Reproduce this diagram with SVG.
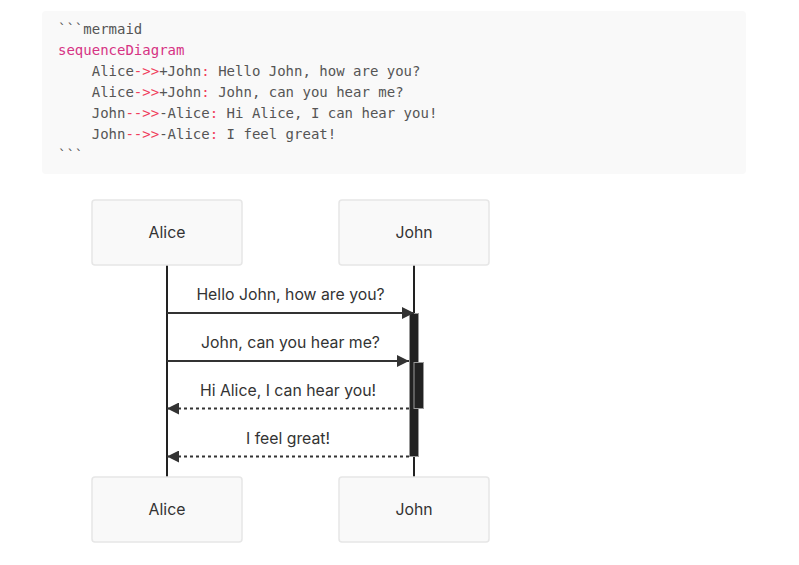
<svg xmlns="http://www.w3.org/2000/svg" width="799" height="565" viewBox="0 0 799 565">
<defs>
<style>
.code{font-family:"DejaVu Sans Mono",monospace;font-size:14px;fill:#555;white-space:pre}
.kw{fill:#d63384}
.op{fill:#f03e5c}
.actor rect{fill:#f9f9f9;stroke:#e6e6e6;stroke-width:1.5}
.actor text,.lbl{font-family:Inter,"Noto Sans",sans-serif;font-size:15.8px;fill:#333;text-anchor:middle;dominant-baseline:central}
.life{stroke:#222;stroke-width:2}
.msg{stroke:#333;stroke-width:2;fill:none}
.dash{stroke-dasharray:3,3}
.act{fill:#222;stroke:#999;stroke-width:1}
</style>
<marker id="ah" viewBox="0 0 10 10" refX="10" refY="5" markerWidth="6" markerHeight="6" orient="auto-start-reverse" markerUnits="strokeWidth">
<path d="M0,0 L10,5 L0,10 z" fill="#333"/>
</marker>
</defs>
<rect x="42" y="11" width="704" height="163" rx="4" fill="#f9f9f9"/>
<g id="code">
<text class="code" x="58" y="34" xml:space="preserve">```mermaid</text>
<text class="code kw" x="58" y="55">sequenceDiagram</text>
<text class="code" x="58" y="76" xml:space="preserve">    Alice<tspan class="op">-&gt;&gt;</tspan>+John<tspan class="op">:</tspan> Hello John, how are you?</text>
<text class="code" x="58" y="97" xml:space="preserve">    Alice<tspan class="op">-&gt;&gt;</tspan>+John<tspan class="op">:</tspan> John, can you hear me?</text>
<text class="code" x="58" y="118" xml:space="preserve">    John<tspan class="op">--&gt;&gt;</tspan>-Alice<tspan class="op">:</tspan> Hi Alice, I can hear you!</text>
<text class="code" x="58" y="139" xml:space="preserve">    John<tspan class="op">--&gt;&gt;</tspan>-Alice<tspan class="op">:</tspan> I feel great!</text>
<text class="code" x="58" y="160" xml:space="preserve">```</text>
</g>
<g id="lifelines">
<line class="life" x1="167" y1="265" x2="167" y2="477"/>
<line class="life" x1="414" y1="265" x2="414" y2="477"/>
</g>
<g id="activations">
<rect class="act" x="409.5" y="313.5" width="9" height="143"/>
<rect class="act" x="414" y="362.5" width="9.5" height="46"/>
</g>
<g id="actor-alice-top" class="actor">
<rect x="92" y="200" width="150" height="65" rx="3"/>
<text x="167" y="232">Alice</text>
</g>
<g id="actor-john-top" class="actor">
<rect x="339" y="200" width="150" height="65" rx="3"/>
<text x="414" y="232">John</text>
</g>
<g id="actor-alice-bottom" class="actor">
<rect x="92" y="477" width="150" height="65" rx="3"/>
<text x="167" y="509">Alice</text>
</g>
<g id="actor-john-bottom" class="actor">
<rect x="339" y="477" width="150" height="65" rx="3"/>
<text x="414" y="509">John</text>
</g>
<g id="connectors">
<line class="msg" x1="167" y1="313" x2="414" y2="313" marker-end="url(#ah)"/>
<text class="lbl" x="290.5" y="294">Hello John, how are you?</text>
<line class="msg" x1="167" y1="361" x2="409" y2="361" marker-end="url(#ah)"/>
<text class="lbl" x="290.5" y="342">John, can you hear me?</text>
<line class="msg dash" x1="409" y1="408.5" x2="167" y2="408.5" marker-end="url(#ah)"/>
<text class="lbl" x="288" y="390">Hi Alice, I can hear you!</text>
<line class="msg dash" x1="409" y1="456.5" x2="167" y2="456.5" marker-end="url(#ah)"/>
<text class="lbl" x="288" y="438">I feel great!</text>
</g>
</svg>
